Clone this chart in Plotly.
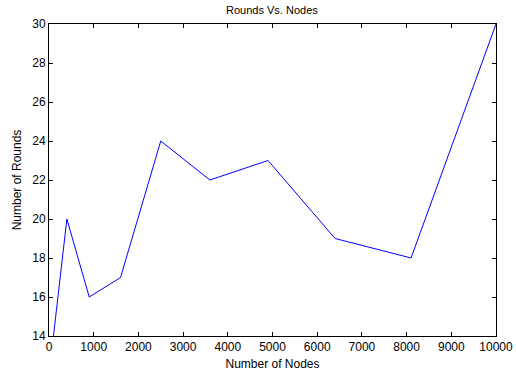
import plotly.graph_objects as go

nodes = [100, 400, 900, 1600, 2500, 3600, 4900, 6400, 8100, 10000]
rounds = [14, 20, 16, 17, 24, 22, 23, 19, 18, 30]
x_ticks = [0, 1000, 2000, 3000, 4000, 5000, 6000, 7000, 8000, 9000, 10000]
y_ticks = [14, 16, 18, 20, 22, 24, 26, 28, 30]

fig = go.Figure()
fig.add_trace(go.Scatter(x=nodes, y=rounds, mode="lines",
                         line=dict(color="#0000ff", width=1)))

axis_common = dict(showline=True, linecolor="black", linewidth=1, mirror="ticks",
                   ticks="inside", ticklen=4, tickcolor="black", tickwidth=1,
                   showgrid=False, zeroline=False, automargin=False,
                   tickfont=dict(size=12, color="black"))

fig.update_layout(
    width=516, height=372,
    margin=dict(l=49, r=20, t=24, b=36),
    paper_bgcolor="white", plot_bgcolor="white",
    font=dict(family="Liberation Sans, Arial, sans-serif", size=12, color="black"),
    showlegend=False,
    title=dict(text="Rounds Vs. Nodes", x=0.527, xanchor="center", y=0.974, yanchor="middle",
               font=dict(size=11)),
    xaxis=dict(range=[0, 10000], tickvals=x_ticks, ticktext=[str(v) for v in x_ticks],
               title=dict(text="Number of Nodes", standoff=6, font=dict(size=12)), **axis_common),
    yaxis=dict(range=[14, 30], tickvals=y_ticks, ticktext=[str(v) for v in y_ticks],
               title=dict(text="Number of Rounds", standoff=8, font=dict(size=12)), **axis_common),
)

fig.write_html("out.html")
